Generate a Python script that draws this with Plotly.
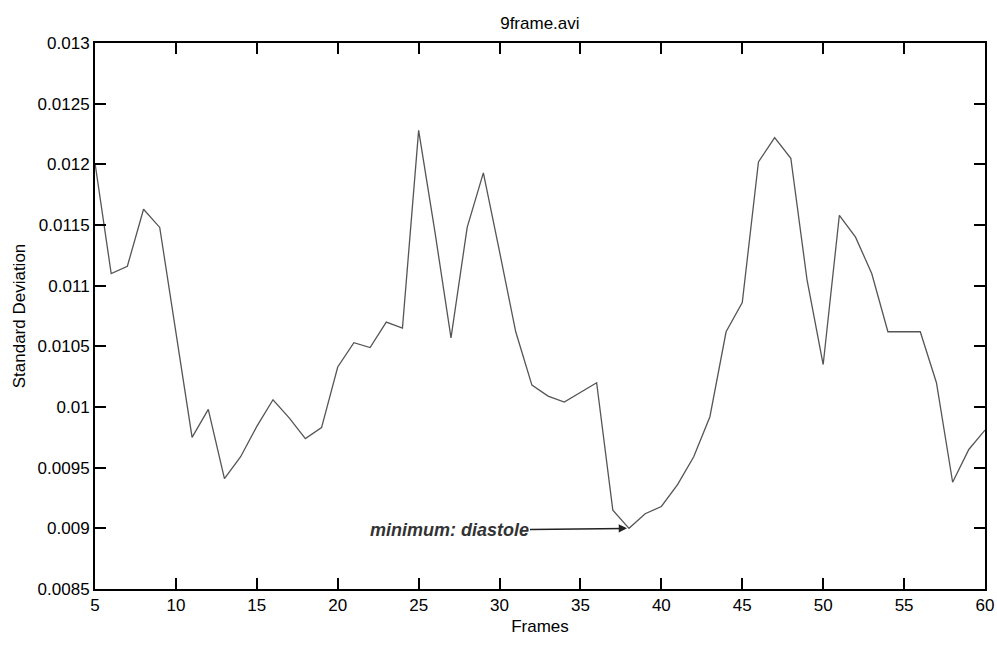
import plotly.graph_objects as go

frames = list(range(5, 61))
std_dev = [
    0.01201, 0.01110, 0.01116, 0.01163, 0.01148, 0.01060, 0.00975, 0.00998,
    0.00941, 0.00959, 0.00984, 0.01006, 0.00991, 0.00974, 0.00983, 0.01033,
    0.01053, 0.01049, 0.01070, 0.01065, 0.01228, 0.01145, 0.01057, 0.01148,
    0.01193, 0.01128, 0.01062, 0.01018, 0.01009, 0.01004, 0.01012, 0.01020,
    0.00915, 0.00900, 0.00912, 0.00918, 0.00936, 0.00959, 0.00992, 0.01062,
    0.01086, 0.01202, 0.01222, 0.01205, 0.01105, 0.01035, 0.01158, 0.01140,
    0.01110, 0.01062, 0.01062, 0.01062, 0.01020, 0.00938, 0.00965, 0.00981,
]
x_ticks = list(range(5, 61, 5))
y_tick_vals = [0.0085, 0.009, 0.0095, 0.01, 0.0105, 0.011, 0.0115, 0.012, 0.0125, 0.013]
y_tick_text = ["0.0085", "0.009", "0.0095", "0.01", "0.0105", "0.011", "0.0115", "0.012", "0.0125", "0.013"]

title_text = "9frame.avi"
x_title = "Frames"
y_title = "Standard Deviation"
annot_text = "minimum: diastole"

FONT = "Liberation Sans, Arial, sans-serif"

i_min = min(range(len(std_dev)), key=lambda i: std_dev[i])

fig = go.Figure()
fig.add_trace(go.Scatter(
    x=frames, y=std_dev, mode="lines",
    line=dict(color="#555555", width=1.3),
    showlegend=False, hoverinfo="x+y", cliponaxis=False,
))

fig.add_annotation(
    x=frames[i_min], y=std_dev[i_min], xref="x", yref="y",
    text="<b><i>" + annot_text + "</i></b>",
    showarrow=True, arrowhead=2, arrowsize=1.1, arrowwidth=1.5, arrowcolor="#222",
    ax=-180, ay=2, standoff=2,
    font=dict(family=FONT, size=18, color="#333"),
)

axis_common = dict(
    showline=True, linecolor="black", linewidth=2, mirror="ticks",
    ticks="inside", ticklen=11, tickwidth=2, tickcolor="black",
    showgrid=False, zeroline=False, automargin=False,
    tickfont=dict(family=FONT, size=17, color="black"),
)

fig.update_layout(
    width=997, height=646,
    margin=dict(l=95, r=12, t=43, b=57),
    paper_bgcolor="white", plot_bgcolor="white",
    title=dict(text=title_text, x=0.5415, xanchor="center", y=0.964, yanchor="middle",
               font=dict(family=FONT, size=17, color="black")),
    xaxis=dict(range=[5, 60], tickvals=x_ticks,
               title=dict(text=x_title, font=dict(family=FONT, size=17, color="black"), standoff=6),
               **axis_common),
    yaxis=dict(range=[0.0085, 0.013], tickvals=y_tick_vals, ticktext=y_tick_text,
               title=dict(text=y_title, font=dict(family=FONT, size=17, color="black"), standoff=8),
               **axis_common),
)

fig.write_html(
    "out.html",
    config={"displayModeBar": False},
    post_script="document.body.style.margin='0';document.body.style.overflow='hidden';",
)
